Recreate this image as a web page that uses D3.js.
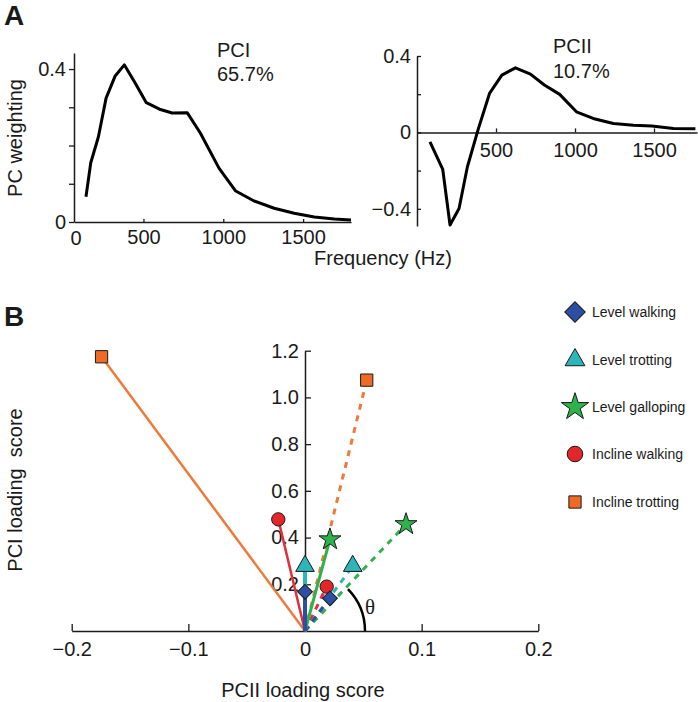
<!DOCTYPE html>
<html>
<head>
<meta charset="utf-8">
<script src="https://cdn.jsdelivr.net/npm/d3@7"></script>
<style>
body { margin: 0; background: #fff; }
svg { display: block; font-family: "Liberation Sans", Arial, sans-serif; }
</style>
</head>
<body>
<svg id="chart" width="698" height="702"></svg>
<script>
// Panel A, PCI weighting curve
var pc1Freq = [140, 170, 218, 266, 323, 380, 449, 518, 601, 680, 774, 857, 973, 1078, 1193, 1319, 1444, 1570, 1696, 1800];
var pc1Weight = [0.066, 0.155, 0.223, 0.324, 0.382, 0.411, 0.363, 0.312, 0.295, 0.285, 0.286, 0.232, 0.141, 0.081, 0.055, 0.036, 0.023, 0.013, 0.008, 0.005];

// Panel A, PCII weighting curve
var pc2Freq = [82, 163, 209, 266, 319, 389, 459, 537, 623, 718, 806, 903, 1009, 1127, 1243, 1370, 1486, 1623, 1762];
var pc2Weight = [-0.049, -0.194, -0.485, -0.398, -0.18, 0.021, 0.204, 0.30, 0.338, 0.305, 0.248, 0.199, 0.108, 0.07, 0.047, 0.038, 0.033, 0.021, 0.019];

var freqTicks = [500, 1000, 1500];

// Panel B, loading scores per gait (solid and dashed vectors)
var gaits = ["Level walking", "Level trotting", "Level galloping", "Incline walking", "Incline trotting"];
var gaitColors = ["#2c4fa3", "#2db6ba", "#2eb24b", "#e4262b", "#f06a26"];
var lineColors = ["#2c4fa3", "#2db6ba", "#2eb24b", "#e2303a", "#ee7a3a"];
var solidPC2 = [0, 0, 0.0214, -0.0229, -0.1744];
var solidPC1 = [0.168, 0.278, 0.392, 0.478, 1.174];
var dashedPC2 = [0.0214, 0.0409, 0.0866, 0.0186, 0.0529];
var dashedPC1 = [0.14, 0.278, 0.457, 0.19, 1.074];

var pcBxTicks = [-0.2, -0.1, 0, 0.1, 0.2];
var pcByTicks = [0.2, 0.4, 0.6, 0.8, 1.0, 1.2];

var svg = d3.select("#chart");
var ink = "#1a1a1a";

function styleAxis(g, size) {
	g.attr("font-size", size).attr("font-family", null);
	g.selectAll("text").attr("fill", ink);
	g.selectAll("line").attr("stroke", ink).attr("stroke-width", 1.3);
	g.select(".domain").attr("stroke", ink).attr("stroke-width", 1.5);
}

// ---------- panel A left ----------
var xA1 = d3.scaleLinear().domain([65, 1800]).range([74, 351]);
var yA1 = d3.scaleLinear().domain([0, 0.442]).range([222, 53]);

svg.append("g")
	.attr("transform", "translate(0,222)")
	.call(d3.axisBottom(xA1).tickValues(freqTicks).tickSizeInner(-3).tickSizeOuter(0).tickPadding(8).tickFormat(d3.format("d")))
	.call(styleAxis, 20);
svg.append("text").attr("x", 76).attr("y", 245).attr("text-anchor", "middle")
	.attr("font-size", 20).attr("fill", ink).text("0");

svg.append("g")
	.attr("transform", "translate(74,0)")
	.call(d3.axisLeft(yA1).tickValues([0, 0.1, 0.2, 0.3, 0.4]).tickSizeInner(5).tickSizeOuter(0).tickPadding(3)
		.tickFormat(function (d) { return d === 0 ? "0" : (d === 0.4 ? "0.4" : ""); }))
	.call(styleAxis, 20);

svg.append("path")
	.datum(d3.range(pc1Freq.length))
	.attr("fill", "none").attr("stroke", "#000").attr("stroke-width", 3).attr("stroke-linejoin", "round")
	.attr("d", d3.line().x(function (i) { return xA1(pc1Freq[i]); }).y(function (i) { return yA1(pc1Weight[i]); }));

svg.append("text").attr("x", 217).attr("y", 57).attr("font-size", 20).attr("fill", ink).text("PCI");
svg.append("text").attr("x", 217).attr("y", 81).attr("font-size", 20).attr("fill", ink).text("65.7%");

// ---------- panel A right ----------
var xA2 = d3.scaleLinear().domain([0, 1772]).range([417, 697]);
var yA2 = d3.scaleLinear().domain([-0.49, 0.4]).range([226, 56]);

svg.append("g")
	.attr("transform", "translate(0," + yA2(0) + ")")
	.call(d3.axisBottom(xA2).tickValues(freqTicks).tickSizeInner(-4).tickSizeOuter(0).tickPadding(10).tickFormat(d3.format("d")))
	.call(styleAxis, 20);

svg.append("g")
	.attr("transform", "translate(417,0)")
	.call(d3.axisLeft(yA2).tickValues([-0.4, -0.2, 0, 0.2, 0.4]).tickSizeInner(-4).tickSizeOuter(0).tickPadding(6)
		.tickFormat(function (d) { return d === 0 ? "0" : (Math.abs(d) === 0.4 ? d3.format(".1f")(d) : ""); }))
	.call(styleAxis, 20);

svg.append("path")
	.datum(d3.range(pc2Freq.length))
	.attr("fill", "none").attr("stroke", "#000").attr("stroke-width", 3).attr("stroke-linejoin", "round")
	.attr("d", d3.line().x(function (i) { return xA2(pc2Freq[i]); }).y(function (i) { return yA2(pc2Weight[i]); }));

svg.append("text").attr("x", 553).attr("y", 53).attr("font-size", 20).attr("fill", ink).text("PCII");
svg.append("text").attr("x", 553).attr("y", 78).attr("font-size", 20).attr("fill", ink).text("10.7%");

svg.append("text").attr("x", 383).attr("y", 265).attr("text-anchor", "middle")
	.attr("font-size", 20).attr("fill", ink).text("Frequency (Hz)");
svg.append("text").attr("transform", "translate(22,138) rotate(-90)").attr("text-anchor", "middle")
	.attr("font-size", 20).attr("fill", ink).text("PC weighting");

// ---------- panel B ----------
var xB = d3.scaleLinear().domain([-0.2, 0.2]).range([71.7, 538.3]);
var yB = d3.scaleLinear().domain([0, 1.2]).range([631, 350.7]);

svg.append("g")
	.attr("transform", "translate(0,631)")
	.call(d3.axisBottom(xB).tickValues(pcBxTicks).tickSizeInner(-7).tickSizeOuter(0).tickPadding(11)
		.tickFormat(function (d) { return d === 0 ? "0" : d3.format(".1f")(d); }))
	.call(styleAxis, 20);

svg.append("g")
	.attr("transform", "translate(" + xB(0) + ",0)")
	.call(d3.axisLeft(yB).tickValues(pcByTicks).tickSizeInner(-6).tickSizeOuter(0).tickPadding(6).tickFormat(d3.format(".1f")))
	.call(styleAxis, 20);

var solidWidths = [4, 4, 3, 2.5, 2.5];

// vectors from the origin, drawn orange first so blue ends on top
var order = [4, 3, 2, 1, 0];
order.forEach(function (i) {
	svg.append("line")
		.attr("x1", xB(0)).attr("y1", yB(0))
		.attr("x2", xB(dashedPC2[i])).attr("y2", yB(dashedPC1[i]))
		.attr("stroke", lineColors[i]).attr("stroke-width", 3).attr("stroke-dasharray", "6,6");
});
order.forEach(function (i) {
	svg.append("line")
		.attr("x1", xB(0)).attr("y1", yB(0))
		.attr("x2", xB(solidPC2[i])).attr("y2", yB(solidPC1[i]))
		.attr("stroke", lineColors[i]).attr("stroke-width", solidWidths[i]);
});

// theta arc from the x axis to the galloping vector
var thetaEnd = Math.atan2(yB(0) - yB(dashedPC1[2]), xB(dashedPC2[2]) - xB(0));
var arcPath = d3.path();
arcPath.arc(xB(0), yB(0), 60, 0, -thetaEnd + 0.04, true);
svg.append("path").attr("d", arcPath.toString()).attr("fill", "none").attr("stroke", "#000").attr("stroke-width", 2.5);
svg.append("text").attr("x", 365).attr("y", 614).attr("font-family", "'Liberation Serif', 'DejaVu Serif', serif")
	.attr("font-size", 21).attr("fill", ink).text("θ");

var symbolTypes = [d3.symbolSquare, d3.symbolTriangle, d3.symbolStar, d3.symbolCircle, d3.symbolSquare];
var symbolSizes = [110, 150, 150, 140, 150];
var legendSizes = [210, 170, 230, 190, 150];
var symbolRotate = [45, 0, 0, 0, 0];

function marker(i, x, y, size) {
	svg.append("path")
		.attr("d", d3.symbol().type(symbolTypes[i]).size(size)())
		.attr("transform", "translate(" + x + "," + y + ") rotate(" + symbolRotate[i] + ")")
		.attr("fill", gaitColors[i]).attr("stroke", "#1a1a1a").attr("stroke-width", 1);
}

order.forEach(function (i) {
	marker(i, xB(solidPC2[i]), yB(solidPC1[i]), symbolSizes[i]);
	marker(i, xB(dashedPC2[i]), yB(dashedPC1[i]), symbolSizes[i]);
});

// legend
var legendY = [312, 360, 407, 454, 502];
gaits.forEach(function (name, i) {
	marker(i, 575, legendY[i], legendSizes[i]);
	svg.append("text").attr("x", 592).attr("y", legendY[i] + 5)
		.attr("font-size", 14).attr("fill", ink).text(name);
});

svg.append("text").attr("x", 303).attr("y", 697).attr("text-anchor", "middle")
	.attr("font-size", 20).attr("fill", ink).text("PCII loading score");
svg.append("text").attr("transform", "translate(22,490) rotate(-90)").attr("text-anchor", "middle")
	.attr("font-size", 20).attr("fill", ink).style("white-space", "pre").text("PCI loading  score");

// panel letters
svg.append("text").attr("x", 4).attr("y", 25).attr("font-size", 28).attr("font-weight", "bold").attr("fill", ink).text("A");
svg.append("text").attr("x", 4).attr("y", 326).attr("font-size", 28).attr("font-weight", "bold").attr("fill", ink).text("B");
</script>
</body>
</html>
